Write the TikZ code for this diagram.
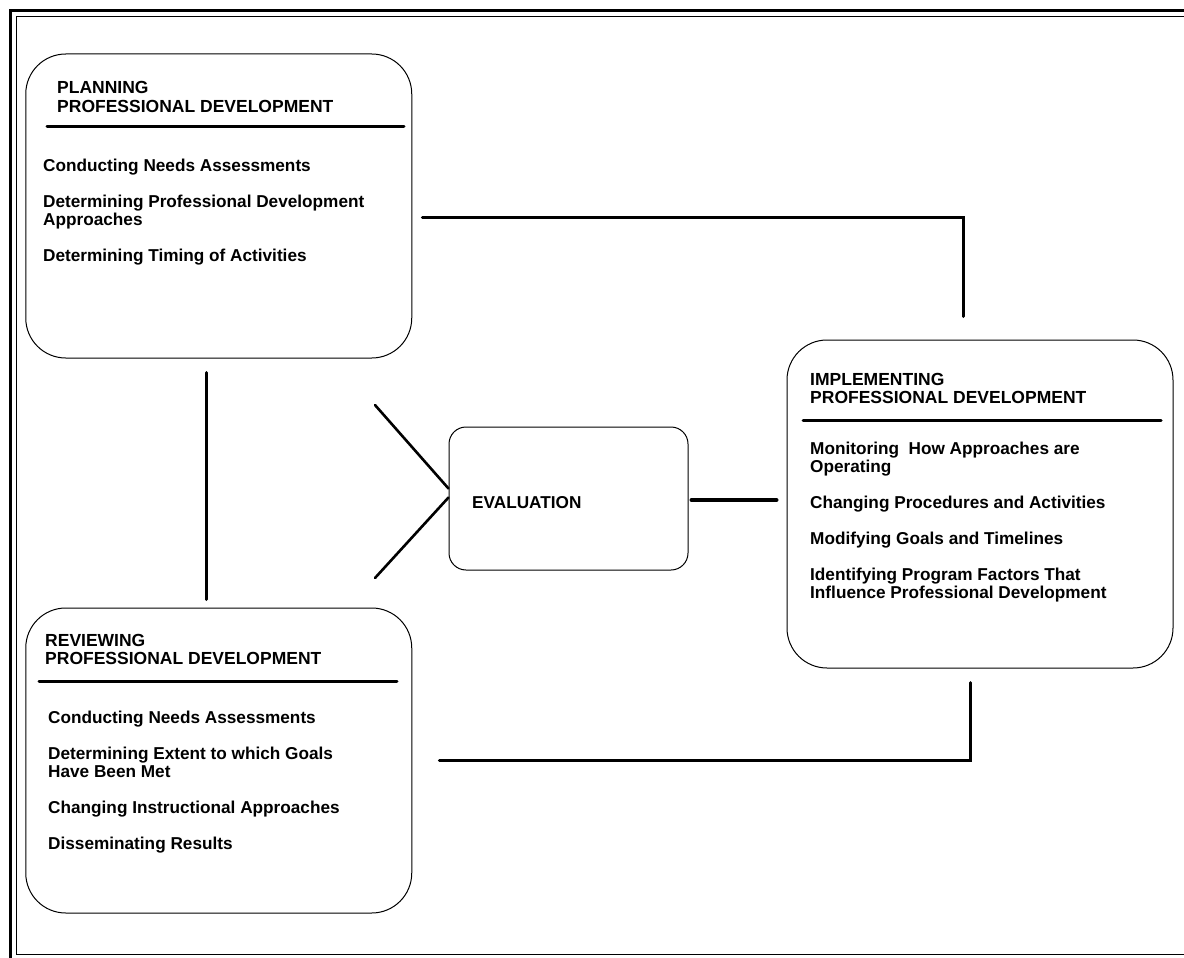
\documentclass[tikz,border=0pt]{standalone}
\usepackage{fontspec}
\setmainfont{Liberation Sans}
\usetikzlibrary{positioning}

\tikzstyle{stage}=[draw,line width=1pt,rounded corners=40pt,inner sep=0pt]
\tikzstyle{hub}=[draw,line width=1pt,rounded corners=17pt,inner sep=0pt,minimum width=239pt,minimum height=143pt]
\tikzstyle{heading}=[anchor=base west,align=left,inner sep=0pt,font=\bfseries\fontsize{17.5}{18}\selectfont]
\tikzstyle{tasks}=[anchor=base west,align=left,inner sep=0pt,font=\bfseries\fontsize{17.2}{18}\selectfont]
\tikzstyle{divider}=[line width=3pt,line cap=round]
\tikzstyle{connector}=[line width=3pt,line cap=round]

\begin{document}
\begin{tikzpicture}[x=1pt,y=-1pt]
        \useasboundingbox (0,0) rectangle (1184,958);
        % frame
        \draw[line width=3pt] (10.5,1000) -- (10.5,10.5) -- (1200,10.5);
        \draw[line width=1.8pt] (16.5,16.5) rectangle (1200,954.5);

        % stages
        \node[stage,minimum width=386pt,minimum height=304pt] (plan) at (218.75,206) {};
        \node[stage,minimum width=386pt,minimum height=328pt] (impl) at (980,504) {};
        \node[stage,minimum width=386pt,minimum height=305pt] (rev) at (218.75,760.5) {};
        \node[hub] (eval) at (568.5,498.5) {};

        % planning (base = last line)
        \node[heading] (planhead) at (57,112) {PLANNING\\PROFESSIONAL DEVELOPMENT};
        \draw[divider] (47,126) -- (404,126);
        \node[tasks] (plantasks) at (43,261) {Conducting Needs Assessments\\[18pt]
            Determining Professional Development\\Approaches\\[18pt]
            Determining Timing of Activities};

        % implementing
        \node[heading] (implhead) at (810,403) {IMPLEMENTING\\PROFESSIONAL DEVELOPMENT};
        \draw[divider] (803,420) -- (1161,420);
        \node[tasks] (impltasks) at (810,598) {Monitoring~ How Approaches are\\Operating\\[18pt]
            Changing Procedures and Activities\\[18pt]
            Modifying Goals and Timelines\\[18pt]
            Identifying Program Factors That\\Influence Professional Development};

        % reviewing
        \node[heading] (revhead) at (45,664) {REVIEWING\\PROFESSIONAL DEVELOPMENT};
        \draw[divider] (39,681) -- (397,681);
        \node[tasks] (revtasks) at (48,849) {Conducting Needs Assessments\\[18pt]
            Determining Extent to which Goals\\Have Been Met\\[18pt]
            Changing Instructional Approaches\\[18pt]
            Disseminating Results};

        % evaluation
        \node[tasks] (evalname) at (472,508) {EVALUATION};

        % connectors
        \coordinate (upfree) at (375,405);
        \coordinate (lowfree) at (375,578);
        \draw[connector] ([shift={(10,11)}]plan.east) -| ([shift={(-17,-23)}]impl.north);
        \draw[connector] ([shift={(-12.75,14)}]plan.south) -- ([shift={(-12.75,-8)}]rev.north);
        \draw[connector,line width=2.6pt] (upfree) -- ([shift={(0,-10)}]eval.west);
        \draw[connector,line width=2.6pt] ([shift={(0,-1)}]eval.west) -- (lowfree);
        \draw[connector,line width=4pt] ([shift={(3,1.5)}]eval.east) -- ([shift={(-10,-4)}]impl.west);
        \draw[connector] ([shift={(-10,14)}]impl.south) |- ([xshift=27]rev.east);
    \end{tikzpicture}
\end{document}
